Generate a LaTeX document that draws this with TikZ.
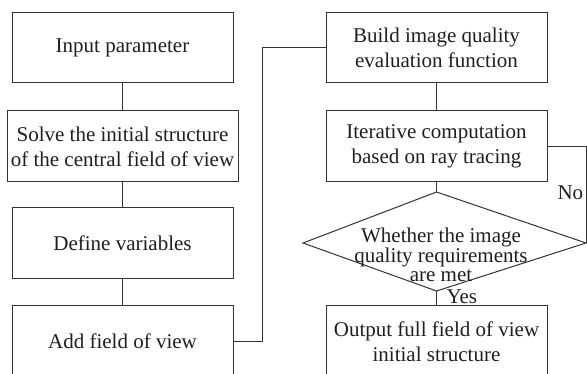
\documentclass[tikz,border=0pt]{standalone}
\usepackage{fontspec}
\setmainfont{Liberation Serif}
\begin{document}
\begin{tikzpicture}[x=1pt,y=-1pt,
  line width=1pt,
  link/.style={draw=black!80},
  procbox/.style={draw=black!80, rectangle, inner sep=0pt, align=center,
    minimum width=221pt, minimum height=71pt, text=black!88,
    font=\fontsize{21}{25}\selectfont},
  decisiontext/.style={inner sep=0pt, align=center, text=black!88,
    font=\fontsize{21}{19}\selectfont},
  tag/.style={inner sep=0pt, text=black!88, font=\fontsize{21}{25}\selectfont}]
\useasboundingbox (0,0) rectangle (587,374);
\clip (0,0) rectangle (587,374);

% left column
\node[procbox, minimum height=70pt] (input) at (122.5,48) {Input parameter};
\node[procbox, minimum width=231pt] (solve) at (122.5,146.5)
  {Solve the initial structure\\of the central field of view};
\node[procbox] (define) at (122.5,243.5) {Define variables};
\node[procbox] (addfov) at (122.5,341.5) {Add field of view};

% right column
\node[procbox, minimum height=70pt] (build) at (436.5,48)
  {Build image quality\\evaluation function};
\node[procbox] (iter) at (436.5,146.5)
  {Iterative computation\\based on ray tracing};
\node[procbox] (output) at (436.5,341.5)
  {Output full field of view\\initial structure};

% decision diamond
\coordinate (dtop) at (436.5,192);
\coordinate (dright) at (586,243);
\coordinate (dbot) at (436.5,291);
\coordinate (dleft) at (303,243);
\draw[link] (dtop) -- (dright) -- (dbot) -- (dleft) -- cycle;
\node[decisiontext] (dtext) at (441,255)
  {Whether the image\\quality requirements\\are met};

% connectors
\draw[link] (input) -- (solve);
\draw[link] (solve) -- (define);
\draw[link] (define) -- (addfov);
\draw[link] (addfov.east) -- ++(29,0) |- (build.west);
\draw[link] (build) -- (iter);
\draw[link] (iter.south) -- (dtop);
\draw[link] (iter.east) -| (dright);
\draw[link] (dbot) -- (output.north);

% branch labels
\node[tag, anchor=base west] (nolabel) at (557,200) {No};
\node[tag, anchor=base west] (yeslabel) at (446,304) {Yes};
\end{tikzpicture}
\end{document}
